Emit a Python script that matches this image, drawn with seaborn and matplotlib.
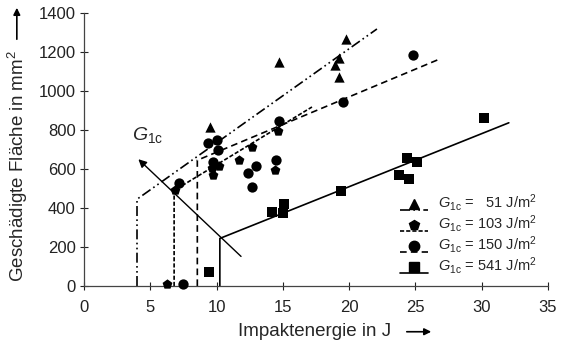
import matplotlib
matplotlib.use("Agg")
import pandas as pd
import seaborn as sns
import matplotlib.pyplot as plt
from matplotlib.lines import Line2D
from matplotlib.patches import FancyArrowPatch
from matplotlib.legend_handler import HandlerBase

# --- data ---
# G1c = 51 J/m2 (triangles)
tri_x = [9.5, 14.7, 19.8, 19.25, 18.95, 19.25]
tri_y = [815, 1150, 1268, 1167, 1133, 1073]
# G1c = 103 J/m2 (pentagons)
pent_x = [6.3, 6.85, 9.65, 10.2, 9.75, 11.7, 12.65, 14.4, 14.6]
pent_y = [10, 492, 603, 615, 569, 646, 714, 595, 797]
# G1c = 150 J/m2 (circles)
circ_x = [7.45, 7.2, 9.35, 10.0, 10.1, 9.75, 12.4, 13.0, 12.7, 14.5, 14.7, 19.55, 24.8]
circ_y = [10, 530, 732, 750, 697, 637, 581, 616, 506, 645, 848, 942, 1185]
# G1c = 541 J/m2 (squares)
sq_x = [9.45, 14.2, 15.1, 15.0, 19.4, 24.4, 25.1, 23.75, 24.5, 30.2]
sq_y = [70, 381, 421, 373, 487, 655, 637, 569, 549, 860]

# threshold + trend lines
line51_x = [4.0, 4.0, 22.1]
line51_y = [0, 445, 1318]
line103_x = [6.8, 6.8, 17.2]
line103_y = [0, 490, 918]
line150_x = [8.55, 8.55, 26.8]
line150_y = [0, 645, 1163]
line541_x = [10.25, 10.25, 32.05]
line541_y = [0, 244, 837]

labels = [r"$G_{\rm 1c}$ =   51 J/m$^2$", r"$G_{\rm 1c}$ = 103 J/m$^2$",
          r"$G_{\rm 1c}$ = 150 J/m$^2$", r"$G_{\rm 1c}$ = 541 J/m$^2$"]
markers = ["^", "p", "o", "s"]
dashes = [(6, 2, 1, 2, 1, 2), (2.5, 1.2), (4, 2.5), ""]


class MarkerAboveLine(HandlerBase):
    """Legend handle: marker sitting on top of a short line sample."""
    def create_artists(self, legend, orig, xdescent, ydescent, width, height, fontsize, trans):
        x0 = -xdescent
        y0 = -ydescent
        ln = Line2D([x0, x0 + width], [y0 - 0.05 * height] * 2, color="black", lw=1.2,
                    transform=trans)
        ds = orig.get_gid()
        if ds:
            ln.set_dashes([float(v) for v in ds.split(",")])
        mk = Line2D([x0 + width / 2], [y0 + 0.4 * height], marker=orig.get_marker(),
                    markersize=orig.get_markersize(), color="black", ls="none",
                    transform=trans)
        return [ln, mk]


sns.set_theme(style="ticks")
plt.rcParams['font.family'] = ['Liberation Sans', 'DejaVu Sans']
plt.rcParams['mathtext.fontset'] = 'custom'
plt.rcParams['mathtext.rm'] = 'Liberation Sans'
plt.rcParams['mathtext.it'] = 'Liberation Sans:italic'

fig = plt.figure(figsize=(5.61, 3.42), dpi=100)
ax = fig.add_axes([0.1497, 0.1637, 0.827, 0.7983])

groups = [(tri_x, tri_y), (pent_x, pent_y), (circ_x, circ_y), (sq_x, sq_y)]
lines = [(line51_x, line51_y), (line103_x, line103_y), (line150_x, line150_y),
         (line541_x, line541_y)]

handles = []
for (gx, gy), (lx, ly), mk, ds, lab in zip(groups, lines, markers, dashes, labels):
    ldf = pd.DataFrame({"x": lx, "y": ly})
    sns.lineplot(data=ldf, x="x", y="y", sort=False, estimator=None, color="black",
                 lw=1.2, ax=ax)
    if ds:
        ax.lines[-1].set_dashes(ds)
    sdf = pd.DataFrame({"x": gx, "y": gy})
    sns.scatterplot(data=sdf, x="x", y="y", marker=mk, color="black", s=55,
                    edgecolor="black", linewidth=0, ax=ax, zorder=3, clip_on=False)
    h = Line2D([], [], color="black", marker=mk, markersize=7.5)
    h.set_gid(",".join(str(v) for v in ds) if ds else "")
    handles.append(h)

# G1c arrow
ax.annotate("", xy=(3.95, 660), xytext=(12.0, 142),
            arrowprops=dict(arrowstyle="-|>", color="black", lw=1.0, mutation_scale=12))
ax.text(3.6, 775, r"$G_{\rm 1c}$", fontsize=14, ha="left", va="center")

ax.set_xlim(0, 35)
ax.set_ylim(0, 1400)
ax.set_xticks(range(0, 36, 5))
ax.set_yticks(range(0, 1401, 200))
ax.set_xlabel("")
ax.set_ylabel("")
ax.tick_params(direction="inout", length=6, width=0.8, labelsize=12, colors="#222222")
ax.tick_params(axis="x", pad=7)
ax.tick_params(axis="y", pad=3)
for side in ["top", "right"]:
    ax.spines[side].set_visible(False)
for side in ["left", "bottom"]:
    ax.spines[side].set_color("#444444")
    ax.spines[side].set_linewidth(0.9)

leg = ax.legend(handles=handles, labels=labels, handler_map={Line2D: MarkerAboveLine()},
                loc="upper left", bbox_to_anchor=(0.665, 0.37), frameon=False,
                fontsize=10.5, handlelength=1.9, handleheight=0.9, handletextpad=0.7,
                labelspacing=0.0, borderpad=0)

# axis titles with arrows
fig.text(0.561, 0.030, "Impaktenergie in J", fontsize=13.5, ha="center", va="center")
fig.add_artist(FancyArrowPatch(
    (404 / 561, 0.030), (434 / 561, 0.030), transform=fig.transFigure,
    arrowstyle="-|>", mutation_scale=10, color="black", lw=1.2))
fig.text(0.032, 1 - 50 / 342, "Geschädigte Fläche in mm$^2$", fontsize=13.5,
         rotation=90, ha="center", va="top")
fig.add_artist(FancyArrowPatch(
    (0.030, 1 - 42 / 342), (0.030, 1 - 5 / 342), transform=fig.transFigure,
    arrowstyle="-|>", mutation_scale=10, color="black", lw=1.2))

fig.savefig("out.png", dpi=100)
